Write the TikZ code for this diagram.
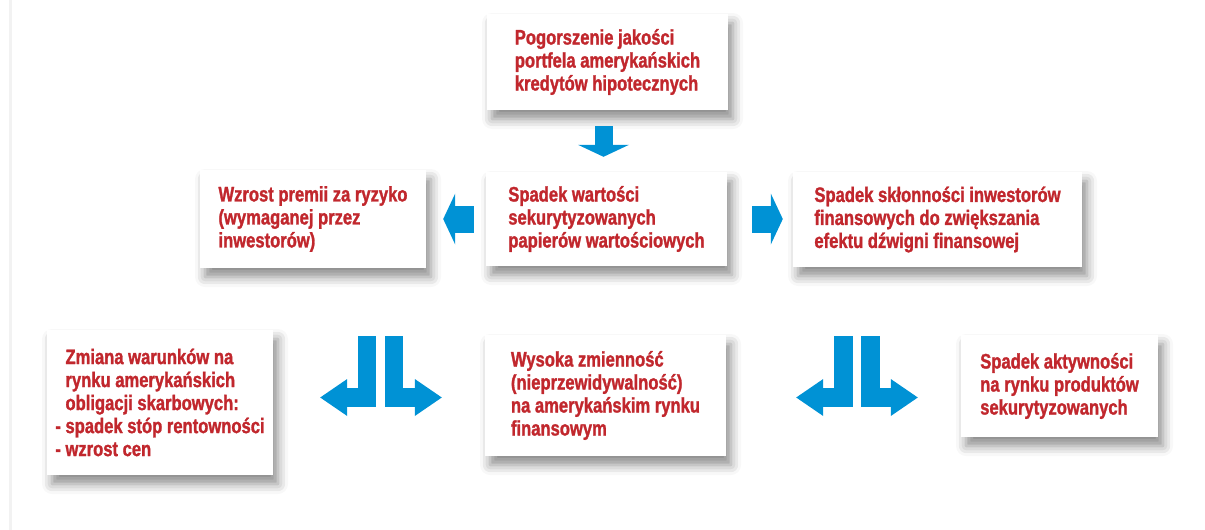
\documentclass[tikz,border=0pt]{standalone}
\usepackage{fontspec}
\usepackage{tikz}
\usetikzlibrary{arrows.meta,shadows.blur}
\newfontfamily\boxfont[FakeStretch=0.79,FakeBold=1.3]{Liberation Sans}
\definecolor{boxred}{HTML}{C1272D}
\definecolor{arrowblue}{HTML}{0092D5}
\tikzset{>=latex,
    bigarrow/.style={draw=arrowblue,-{Triangle[width=51pt,length=12pt,line width=0pt]}},
    forkarrow/.style={draw=arrowblue,line width=18.5pt,-{Triangle[width=37pt,length=27pt,line width=0pt]}}}

\begin{document}
\begin{tikzpicture}[x=1pt,y=-1pt]
\useasboundingbox (0,0) rectangle (1205,530);
\fill[black!5] (9,0) rectangle (12,530);
\begin{scope}[every node/.style={rectangle,fill=white,align=left,text=boxred,
        font=\boxfont\bfseries\fontsize{21}{23}\selectfont,
        blur shadow={shadow xshift=5pt,shadow yshift=-9pt,shadow blur radius=10pt,shadow opacity=45}}]
\node[minimum width=241pt,minimum height=96pt] (pogorszenie) at (607.5,62)
    {Pogorszenie jakości\\portfela amerykańskich\\kredytów hipotecznych};
\node[minimum width=241pt,minimum height=94pt] (spadek) at (606.5,219)
    {Spadek wartości\\sekurytyzowanych\\papierów wartościowych};
\node[minimum width=226pt,minimum height=98pt] (wzrost) at (313,219)
    {Wzrost premii za ryzyko\\(wymaganej przez\\inwestorów)};
\node[minimum width=289pt,minimum height=95pt] (sklonnosc) at (937.5,219.5)
    {Spadek skłonności inwestorów\\finansowych do zwiększania\\efektu dźwigni finansowej};
\node[minimum width=226pt,minimum height=145pt] (zmiana) at (160,402.5)
    {\phantom{- }Zmiana warunków na\\\phantom{- }rynku amerykańskich\\\phantom{- }obligacji skarbowych:\\- spadek stóp rentowności\\- wzrost cen};
\node[minimum width=241pt,minimum height=121pt] (zmiennosc) at (605.5,395.5)
    {Wysoka zmienność\\(nieprzewidywalność)\\na amerykańskim rynku\\finansowym};
\node[minimum width=197pt,minimum height=102pt] (aktywnosc) at (1059.5,386)
    {Spadek aktywności\\na rynku produktów\\sekurytyzowanych};
\end{scope}

\coordinate (fork1) at (380.5,336);
\coordinate (fork2) at (857,336);

% arrows between the boxes
\draw[bigarrow,line width=18pt,shorten <=16pt,shorten >=15pt]
    ([xshift=-4pt]pogorszenie.south) -- ([xshift=-3pt]spadek.north);
\draw[bigarrow,line width=27pt,shorten <=12pt,shorten >=17pt] (spadek.west) -- (wzrost.east);
\draw[bigarrow,line width=27pt,shorten <=25pt,shorten >=10pt] (spadek.east) -- ([yshift=0.5pt]sklonnosc.west);

% split arrows
\draw[forkarrow,shorten >=47pt] ([xshift=-13.5pt]fork1) |- ([yshift=5pt]zmiana.east);
\draw[forkarrow,shorten >=43pt] ([xshift=13.5pt]fork1) |- ([yshift=-2pt]zmiennosc.west);
\draw[forkarrow,shorten >=70pt] ([xshift=-13.5pt]fork2) |- ([yshift=-2pt]zmiennosc.east);
\draw[forkarrow,shorten >=43pt] ([xshift=13.5pt]fork2) |- ([yshift=-11.5pt]aktywnosc.west);
\end{tikzpicture}
\end{document}
